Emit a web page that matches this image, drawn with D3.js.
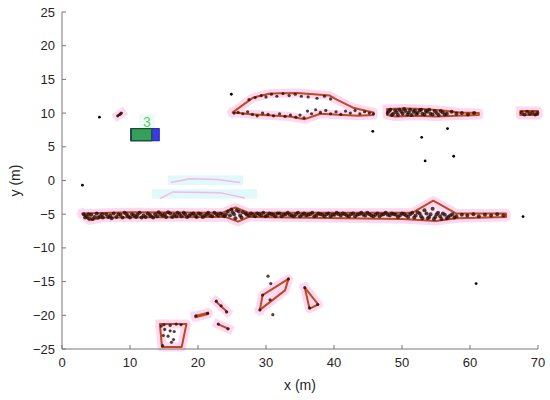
<!DOCTYPE html>
<html><head><meta charset="utf-8">
<script src="https://cdn.jsdelivr.net/npm/d3@7"></script>
<style>body{margin:0;background:#fff}svg{display:block}text{font-family:"Liberation Sans",Arial,sans-serif}</style>
</head><body><svg id="c" width="550" height="400"></svg>
<script>
const xTicks=[0,10,20,30,40,50,60,70];
const yTicks=[-25,-20,-15,-10,-5,0,5,10,15,20,25];

const streetPts=[[3.2,-5.0],[3.6,-5.3],[4.0,-5.6],[4.3,-5.1],[4.8,-5.4],[5.1,-4.9],[5.6,-5.3],[6.0,-5.5],[6.5,-5.0],[7.1,-5.2],[7.6,-4.9],[8.0,-5.4],[8.6,-5.1],[9.2,-4.8],[9.7,-5.3],[10.3,-5.0],[10.9,-5.4],[11.4,-4.8],[12.0,-5.2],[12.6,-4.9],[13.1,-5.3],[13.7,-5.0],[14.2,-4.7],[14.8,-5.2],[15.3,-5.4],[15.9,-4.9],[16.5,-5.1],[17.0,-4.8],[17.6,-5.3],[18.1,-5.0],[18.7,-5.2],[19.3,-4.9],[19.8,-5.4],[20.4,-5.0],[21.0,-5.2],[21.5,-4.8],[22.1,-5.3],[22.7,-5.0],[23.3,-4.9],[23.9,-5.3],[24.4,-4.6],[24.9,-4.3],[25.3,-5.0],[25.7,-4.4],[26.2,-5.2],[26.6,-4.7],[27.2,-5.1],[27.8,-4.9],[28.4,-5.3],[29.0,-5.0],[29.6,-4.8],[30.2,-5.2],[30.8,-5.0],[31.4,-5.3],[32.0,-4.9],[32.6,-5.1],[33.2,-4.8],[33.8,-5.2],[34.4,-5.0],[35.0,-5.3],[35.6,-4.9],[36.2,-5.1],[36.8,-4.8],[37.4,-5.2],[38.0,-5.0],[38.6,-5.3],[39.2,-4.9],[39.8,-5.1],[40.4,-4.8],[41.0,-5.2],[41.6,-5.0],[42.2,-5.3],[42.8,-4.9],[43.4,-5.1],[44.0,-4.8],[44.6,-5.2],[45.2,-5.0],[45.8,-5.3],[46.4,-4.9],[47.0,-5.1],[47.6,-4.8],[48.2,-5.2],[48.8,-5.0],[49.4,-5.4],[50.0,-4.9],[50.6,-5.2],[51.2,-5.0],[51.8,-5.5],[52.3,-4.7],[52.8,-5.3],[53.3,-4.4],[53.8,-5.6],[54.2,-5.0],[54.5,-4.2],[54.9,-5.4],[55.3,-4.8],[55.8,-5.7],[56.3,-5.1],[56.8,-5.4],[57.4,-5.0],[58.0,-5.3],[58.8,-5.1],[59.6,-5.2],[60.5,-5.0],[61.3,-5.3],[62.2,-5.1],[63.1,-5.2],[64.0,-5.0],[64.9,-5.2]];
const streetPts2=[[3.4,-5.5],[3.9,-5.0],[4.5,-5.7],[5.3,-5.5],[5.9,-5.0],[6.8,-5.4],[7.3,-5.6],[8.3,-5.0],[8.9,-5.5],[9.5,-5.0],[10.0,-5.5],[10.6,-5.2],[11.1,-5.1],[11.7,-5.5],[12.3,-5.4],[12.9,-5.1],[13.4,-5.5],[14.0,-5.3],[14.5,-5.0],[15.1,-5.0],[15.6,-4.7],[16.2,-5.4],[16.8,-5.3],[17.3,-5.0],[17.9,-4.8],[18.4,-5.4],[19.0,-5.0],[19.6,-5.2],[20.1,-4.9],[20.7,-5.4],[21.3,-5.0],[21.8,-5.2],[22.4,-4.8],[23.0,-5.2],[23.6,-5.1],[24.1,-5.0],[24.7,-5.2],[25.1,-4.7],[25.5,-5.6],[26.0,-4.6],[26.4,-5.5],[27.0,-4.9],[27.5,-5.2],[28.1,-5.1],[28.7,-4.9],[29.3,-5.2],[29.9,-5.3],[30.5,-4.9],[31.1,-5.1],[31.7,-4.9],[32.3,-5.3],[32.9,-5.0],[33.5,-5.1],[34.1,-5.3],[34.7,-4.8],[35.3,-5.1],[35.9,-5.2],[36.5,-5.0],[37.1,-5.3],[37.7,-4.9],[38.3,-5.1],[38.9,-5.0],[39.5,-5.3],[40.1,-5.1],[40.7,-5.0],[41.3,-4.9],[41.9,-5.2],[42.5,-5.0],[43.1,-5.3],[43.7,-5.0],[44.3,-5.1],[44.9,-4.8],[45.5,-5.2],[46.1,-5.1],[46.7,-5.3],[47.3,-5.0],[47.9,-5.1],[48.5,-4.9],[49.1,-5.1],[49.7,-5.2],[50.3,-5.0],[50.9,-5.4],[51.5,-4.8],[52.0,-5.2],[52.6,-4.9],[53.0,-5.6],[53.6,-4.9],[54.0,-5.4],[54.7,-5.7],[55.1,-5.0],[55.6,-5.3],[56.0,-4.9],[56.6,-5.6],[57.1,-5.2],[57.7,-5.5]];
const streetHull=[[3.0,-4.9],[10,-4.7],[23.5,-4.8],[25.5,-4.0],[27.5,-4.8],[51.5,-4.8],[54.6,-3.0],[58,-4.9],[65.3,-4.9],[65.3,-5.4],[58,-5.6],[55,-6.0],[50,-5.7],[27.5,-5.4],[25.9,-6.1],[24,-5.4],[6,-5.5],[4,-5.9]];

const upperPts=[[27.5,12.0],[28.4,12.3],[29.3,12.6],[30.0,12.4],[30.8,12.8],[31.6,12.5],[32.5,12.9],[33.4,12.6],[34.3,12.8],[35.2,12.5],[36.2,12.4],[37.5,12.2],[38.6,12.5],[39.5,12.1],[25.3,10.0],[25.9,10.1],[26.6,9.9],[27.3,10.2],[28.0,9.8],[28.7,9.6],[29.5,10.0],[30.3,9.8],[31.1,9.6],[32.0,9.9],[32.8,9.5],[33.6,9.7],[34.4,9.4],[35.0,9.7],[35.6,9.3],[36.1,10.3],[36.7,9.9],[37.3,10.5],[38.0,10.1],[38.8,10.4],[39.5,9.9],[40.3,10.2],[41.0,9.8],[41.7,10.3],[42.4,10.0],[43.1,10.4],[43.8,9.9],[44.5,10.2],[45.2,10.0],[45.8,9.9]];
const upperHull=[[25.1,10.1],[28.1,12.3],[30.6,12.9],[34.6,13.0],[39.4,12.6],[40.4,12.0],[42.8,10.8],[45.8,10.1],[45.8,9.7],[43.5,9.6],[38.0,9.9],[35.7,9.1],[33.5,9.5],[28.1,9.8],[26.0,10.0]];

const midPts=[[47.9,10.0],[48.1,10.3],[48.3,10.5],[48.5,9.7],[48.7,9.9],[49.0,10.4],[49.2,10.1],[49.4,9.7],[49.6,10.5],[49.9,10.2],[50.1,9.9],[50.3,10.6],[50.5,10.3],[50.8,9.8],[51.0,10.1],[51.2,10.5],[51.4,9.7],[51.7,10.2],[51.9,10.4],[52.1,9.9],[52.3,10.0],[52.6,10.4],[52.8,10.5],[53.0,9.9],[53.3,9.8],[53.5,10.3],[53.7,10.2],[54.0,10.5],[54.2,9.9],[54.5,9.8],[54.8,10.3],[55.1,10.0],[55.4,9.7],[55.7,10.3],[56.0,10.1],[56.3,9.8],[56.6,9.9],[57.3,10.2],[58.0,9.9],[58.8,10.0],[59.7,9.8],[60.6,10.0]];
const midHull=[[47.8,10.6],[50.5,10.7],[53,10.6],[56,10.4],[58.5,10.1],[61.3,10.0],[61.3,9.7],[58,9.6],[55,9.5],[52,9.6],[49,9.5],[47.8,9.7]];

const rightPts=[[67.6,10.1],[68.0,9.8],[68.4,10.2],[68.8,9.9],[69.2,10.1],[69.6,9.8],[69.9,10.0]];
const rightHull=[[67.4,10.3],[70,10.3],[70,9.7],[67.4,9.7]];

const smallPts=[[8.2,9.6],[8.5,9.8],[8.7,10.0]];
const smallHull=[[8.2,9.6],[8.8,10.0]];

const boxPts=[[14.6,-21.6],[15.0,-21.4],[15.1,-22.1],[15.9,-22.3],[15.6,-23.1],[16.4,-23.6],[16.1,-24.0],[14.8,-24.5],[15.9,-21.5],[16.8,-21.3],[17.5,-21.4],[16.5,-22.4],[14.9,-23.0]];
const boxHull=[[14.4,-21.3],[18.3,-21.3],[17.6,-24.7],[14.7,-24.7]];

const seg1Pts=[[19.7,-20.1],[21.4,-19.7]];
const seg1Hull=[[19.6,-20.1],[21.5,-19.6],[21.5,-19.8],[19.6,-20.3]];
const seg2Pts=[[22.7,-17.9],[24.2,-19.5],[23.4,-18.6]];
const seg2Hull=[[22.6,-17.9],[24.3,-19.5]];
const seg3Pts=[[23.0,-21.3],[24.4,-22.0]];
const seg3Hull=[[22.9,-21.3],[24.5,-22.0]];

const paraPts=[[29.1,-19.2],[29.5,-17.0],[33.3,-14.6],[30.3,-14.2],[30.7,-15.3],[30.6,-17.7],[31.0,-19.9]];
const paraHull=[[29.1,-19.2],[29.5,-17.0],[33.3,-14.6],[32.8,-16.3]];
const triPts=[[35.7,-15.9],[37.6,-18.4],[36.4,-18.9]];
const triHull=[[35.7,-15.9],[37.7,-18.4],[36.4,-19.0]];

const isolatedPts=[[5.5,9.4],[3.0,-0.7],[24.9,12.8],[45.7,7.3],[52.9,6.4],[56.7,7.7],[57.6,3.6],[53.4,2.9],[67.8,-5.35],[60.9,-15.3]];

const ghostRects=[[15.6,26.6,-0.7,0.75],[13.2,28.7,-2.7,-1.3]];
const ghostLines=[[[16.0,-0.3],[18.8,0.25],[22.8,0.15],[26.2,-0.3]],[[14.4,-2.7],[16.3,-1.7],[23.2,-1.8],[26.9,-2.6]]];

const carBlue=[10.1,14.3,5.9,7.7];
const carGreen=[10.2,13.2,5.9,7.7];
const carLabel={x:12.5,y:8.5,text:"3"};

const clusters=[
 {pts:streetPts.concat(streetPts2),hull:streetHull,big:true},{pts:upperPts,hull:upperHull},{pts:midPts,hull:midHull,big:true},
 {pts:rightPts,hull:rightHull,big:true},{pts:smallPts,hull:smallHull},{pts:boxPts,hull:boxHull},
 {pts:seg1Pts,hull:seg1Hull},{pts:seg2Pts,hull:seg2Hull},{pts:seg3Pts,hull:seg3Hull},
 {pts:paraPts,hull:paraHull},{pts:triPts,hull:triHull}];

const svg=d3.select("#c");
const L=62,R=538,T=12,B=349;
const x=d3.scaleLinear().domain([0,70]).range([L,R]);
const y=d3.scaleLinear().domain([-25,25]).range([B,T]);
const line=d3.line().x(d=>x(d[0])).y(d=>y(d[1]));

const g=svg.append("g");
// faint ghost marks
g.selectAll("rect.ghost").data(ghostRects).join("rect")
 .attr("x",d=>x(d[0])).attr("width",d=>x(d[1])-x(d[0]))
 .attr("y",d=>y(d[3])).attr("height",d=>y(d[2])-y(d[3]))
 .attr("fill","#e0f9f9");
g.selectAll("path.ghostl").data(ghostLines).join("path")
 .attr("d",line)
 .attr("fill","none").attr("stroke","#f6b8ec").attr("stroke-width",1.5);

// pink halos
clusters.forEach(c=>{
  const closed=c.hull.length>2?c.hull.concat([c.hull[0]]):c.hull;
  g.append("path").attr("d",line(closed)).attr("fill",c.big?"#fde6f8":"none")
   .attr("stroke","#fcd8f4").attr("stroke-width",9).attr("stroke-linejoin","round").attr("stroke-linecap","square");
});

// car box
g.append("rect").attr("x",x(carLabel.x)-8).attr("y",y(carLabel.y)-9).attr("width",16).attr("height",16).attr("fill","#eefcf9");
g.append("rect").attr("x",x(carBlue[0])).attr("y",y(carBlue[3])).attr("width",x(carBlue[1])-x(carBlue[0])).attr("height",y(carBlue[2])-y(carBlue[3]))
 .attr("fill","#3b3be6").attr("stroke","#2020a0").attr("stroke-width",1);
g.append("rect").attr("x",x(carGreen[0])).attr("y",y(carGreen[3])).attr("width",x(carGreen[1])-x(carGreen[0])).attr("height",y(carGreen[2])-y(carGreen[3]))
 .attr("fill","#34a05a").attr("stroke","#1d4a2a").attr("stroke-width",1.2);
g.append("text").attr("x",x(carLabel.x)).attr("y",y(carLabel.y)).attr("text-anchor","middle").attr("dominant-baseline","middle")
 .attr("font-size",14).attr("fill","#5ad25a").text(carLabel.text);

// hulls
clusters.forEach(c=>{
  const closed=c.hull.length>2?c.hull.concat([c.hull[0]]):c.hull;
  g.append("path").attr("d",line(closed)).attr("fill","none").attr("stroke","#bf4a1f").attr("stroke-width",2).attr("stroke-linejoin","round").attr("stroke-linecap","round");
});
// points
clusters.forEach(c=>{
  g.append("g").selectAll("circle").data(c.pts).join("circle").attr("cx",d=>x(d[0])).attr("cy",d=>y(d[1]))
   .attr("r",c.big?2:1.6).attr("fill","#2a0c04").attr("opacity",0.8);
});
g.selectAll("circle.i").data(isolatedPts).join("circle").attr("cx",d=>x(d[0])).attr("cy",d=>y(d[1])).attr("r",1.4).attr("fill","#000");

// axes
const ax=svg.append("g").attr("fill","none");
ax.append("line").attr("x1",L).attr("x2",R).attr("y1",B).attr("y2",B).attr("stroke","#777");
ax.append("line").attr("x1",L).attr("x2",L).attr("y1",T).attr("y2",B).attr("stroke","#777");
xTicks.forEach(t=>{
  ax.append("line").attr("x1",x(t)).attr("x2",x(t)).attr("y1",B).attr("y2",B-4).attr("stroke","#777");
  svg.append("text").attr("x",x(t)).attr("y",B+18).attr("text-anchor","middle").attr("font-size",13).attr("fill","#262626").text(t);
});
yTicks.forEach(t=>{
  ax.append("line").attr("x1",L).attr("x2",L+4).attr("y1",y(t)).attr("y2",y(t)).attr("stroke","#777");
  svg.append("text").attr("x",L-7).attr("y",y(t)+4.5).attr("text-anchor","end").attr("font-size",13).attr("fill","#262626").text(t<0?"\u2212"+Math.abs(t):t);
});
svg.append("text").attr("x",(L+R)/2).attr("y",390).attr("text-anchor","middle").attr("font-size",14).attr("fill","#262626").text("x (m)");
svg.append("text").attr("transform",`translate(20,${(T+B)/2}) rotate(-90)`).attr("text-anchor","middle").attr("font-size",14).attr("fill","#262626").text("y (m)");
</script></body></html>
